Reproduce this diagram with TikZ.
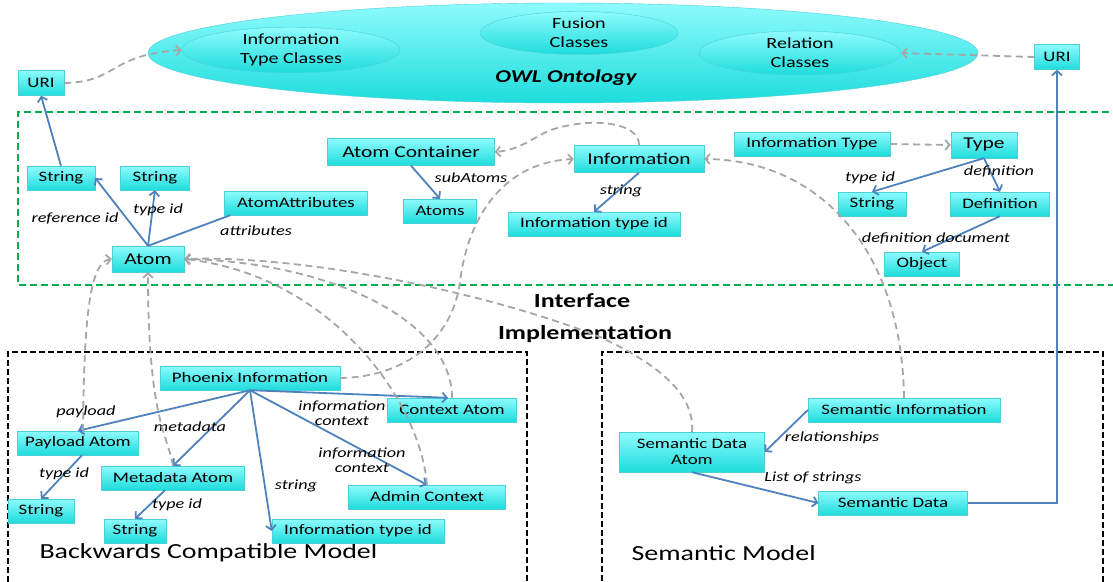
\documentclass[tikz,border=0pt]{standalone}
\usepackage{fontspec}
\setmainfont[FakeStretch=1.3]{Carlito}
\usetikzlibrary{shapes.geometric,arrows.meta}

\definecolor{boxtop}{HTML}{8EFBFD}
\definecolor{boxbot}{HTML}{1EDCDC}
\definecolor{boxedge}{HTML}{4BD0D8}
\definecolor{relblue}{HTML}{4F81BD}
\definecolor{refgray}{HTML}{A6A6A6}
\definecolor{ifgreen}{HTML}{00B050}

\tikzset{
    box/.style={draw=boxedge, thin, top color=boxtop, bottom color=boxbot, minimum height=24pt, inner sep=1pt, font=\fontsize{14.5}{16}\selectfont},
    bigbox/.style={box, font=\fontsize{16.5}{18}\selectfont},
    cls/.style={ellipse, draw=boxedge, thin, top color=boxtop, bottom color=boxbot, align=center, inner sep=0pt, font=\fontsize{15.5}{19}\selectfont},
    rel/.style={relblue, line width=1.8pt, -{Straight Barb[length=4.5pt,width=10pt]}},
    link/.style={relblue, line width=1.8pt},
    ref/.style={refgray, line width=1.8pt, dash pattern=on 7pt off 4.5pt, -{Straight Barb[length=4.5pt,width=10pt]}},
    lbl/.style={font=\itshape\fontsize{14}{15}\selectfont, inner sep=0pt, align=center},
    ttl/.style={font=\bfseries\fontsize{20}{22}\selectfont}
}

\begin{document}
\begin{tikzpicture}[x=1pt,y=-1pt]
    \useasboundingbox (0,0) rectangle (1113,581);

    % OWL ontology
    \draw[boxedge, thin, top color=boxtop, bottom color=boxbot] (563,53) ellipse [x radius=415pt, y radius=50pt];
    \node[cls, minimum width=218pt, minimum height=45pt] (itc) at (291,50) {Information\\Type Classes};
    \node[cls, minimum width=198pt, minimum height=43pt] (fc) at (579,33) {Fusion\\Classes};
    \node[cls, minimum width=202pt, minimum height=44pt] (rc) at (800,53) {Relation\\Classes};
    \node[font=\bfseries\itshape\fontsize{18}{20}\selectfont] (owl) at (566,78) {OWL Ontology};

    \node[box, minimum width=46pt, minimum height=25pt] (uriL) at (41,83) {URI};
    \node[box, minimum width=45pt, minimum height=25pt] (uriR) at (1057,57) {URI};

    % Interface / implementation frames
    \draw[ifgreen, line width=1.8pt, dash pattern=on 7pt off 4pt] (1120,112) -- (18,112) -- (18,285) -- (1120,285);
    \draw[black, line width=2.2pt, dash pattern=on 6pt off 3pt] (527,590) -- (527,352) -- (8,352) -- (8,590);
    \draw[black, line width=2.2pt, dash pattern=on 6pt off 3pt] (602,590) -- (602,352) -- (1103,352) -- (1103,590);
    \node[ttl] (ifc) at (582,301) {Interface};
    \node[ttl] (impl) at (585,334) {Implementation};
    \node[anchor=west, font=\fontsize{21.5}{24}\selectfont] (bcm) at (36,553) {Backwards Compatible Model};
    \node[anchor=west, font=\fontsize{21.5}{24}\selectfont] (sm) at (628,553) {Semantic Model};

    % Interface nodes
    \node[box, minimum width=68pt] (strRef) at (61,178) {String};
    \node[box, minimum width=69pt] (strType) at (155,178) {String};
    \node[box, minimum width=143pt] (attr) at (296,203) {AtomAttributes};
    \node[bigbox, minimum width=72pt, minimum height=26pt] (atom) at (148,259) {Atom};
    \node[bigbox, minimum width=167pt, minimum height=27pt] (cont) at (411,152) {Atom Container};
    \node[box, minimum width=73pt] (atoms) at (440,211) {Atoms};
    \node[bigbox, minimum width=130pt, minimum height=27pt] (info) at (639,159) {Information};
    \node[box, minimum width=172pt] (infoId) at (594,224) {Information type id};
    \node[box, minimum width=156pt] (infoType) at (812,144) {Information Type};
    \node[bigbox, minimum width=66pt, minimum height=26pt] (type) at (984,145) {Type};
    \node[box, minimum width=68pt] (strT) at (872,204) {String};
    \node[box, minimum width=99pt] (defn) at (1000,204) {Definition};
    \node[box, minimum width=75pt] (obj) at (922,264) {Object};

    % Backwards compatible model
    \node[box, minimum width=180pt] (phx) at (250,378) {Phoenix Information};
    \node[box, minimum width=129pt] (ctx) at (452,410) {Context Atom};
    \node[box, minimum width=121pt] (pay) at (78,443) {Payload Atom};
    \node[box, minimum width=143pt] (meta) at (173,478) {Metadata Atom};
    \node[box, minimum width=66pt] (strP) at (41,511) {String};
    \node[box, minimum width=62pt] (strM) at (135,531) {String};
    \node[box, minimum width=157pt] (admin) at (427,497) {Admin Context};
    \node[box, minimum width=172pt] (phxId) at (358,531) {Information type id};

    % Semantic model
    \node[box, minimum width=192pt] (semInfo) at (904,410) {Semantic Information};
    \node[box, minimum width=145pt, minimum height=40pt, align=center] (semAtom) at (692,452) {Semantic Data\\Atom};
    \node[box, minimum width=149pt] (semData) at (893,503) {Semantic Data};

    % Relations
    \draw[rel] (strRef.north) -- (uriL.south);
    \draw[rel] (atom.north) -- (strRef.east);
    \draw[rel] (atom.north) -- (strType.south);
    \draw[link] (atom.north) -- ([xshift=6pt]attr.south west);
    \draw[rel] (cont.south) -- (atoms.north);
    \draw[rel] (info.south) -- (infoId.north);
    \draw[rel] (type.south) -- (strT.north);
    \draw[rel] (type.south) -- (defn.north);
    \draw[rel] (defn.south) -- (obj.north);

    \draw[rel] (phx.south) -- (pay.north);
    \draw[rel] (phx.south) -- (meta.north);
    \draw[rel] (phx.south) -- (phxId.west);
    \draw[rel] (phx.south) -- ([xshift=-4pt]ctx.north);
    \draw[rel] (phx.south) -- (admin.north);
    \draw[rel] ([xshift=4pt]pay.south) -- (strP.north);
    \draw[rel] ([xshift=-8pt]meta.south) -- (strM.north);

    \draw[rel] (semInfo.west) -- (semAtom.east);
    \draw[rel] (semAtom.south) -- (semData.west);
    \draw[rel] (semData.east) -| (uriR.south);

    % Labels
    \node[lbl] (lRef) at (75,218) {reference id};
    \node[lbl] (lType) at (158,210) {type id};
    \node[lbl] (lAttr) at (256,231) {attributes};
    \node[lbl] (lSub) at (471,178) {subAtoms};
    \node[lbl] (lStr) at (621,191) {string};
    \node[lbl] (lTypeT) at (870,178) {type id};
    \node[lbl] (lDef) at (999,171) {definition};
    \node[lbl] (lDoc) at (936,238) {definition document};
    \node[lbl] (lPay) at (86,412) {payload};
    \node[lbl] (lMeta) at (190,427) {metadata};
    \node[lbl] (lTypeP) at (64,474) {type id};
    \node[lbl] (lTypeM) at (177,505) {type id};
    \node[lbl] (lStrP) at (296,486) {string};
    \node[lbl] (lCtx) at (342,413) {information\\context};
    \node[lbl] (lAdm) at (362,460) {information\\context};
    \node[lbl] (lRelS) at (832,438) {relationships};
    \node[lbl] (lList) at (813,478) {List of strings};

    % References
    \draw[ref] (uriL.east) .. controls (118,82) and (108,55) .. (itc.west);
    \draw[ref] (uriR.west) -- (rc.east);
    \draw[ref] (infoType.east) -- (type.west);
    \draw[ref] (info.north) .. controls (640,122) and (590,116) .. (548,131) .. controls (530,140) and (518,150) .. (cont.east);
    \draw[ref] (phx.east) .. controls (405,377) and (452,340) .. (460,282) .. controls (468,215) and (505,162) .. (info.west);
    \draw[ref] (semInfo.north) .. controls (902,250) and (820,160) .. (info.east);
    \draw[ref] (ctx.north) .. controls (452,320) and (330,262) .. (atom.east);
    \draw[ref] (admin.north) .. controls (420,400) and (330,275) .. (atom.east);
    \draw[ref] (semAtom.north) .. controls (695,395) and (660,365) .. (600,337) .. controls (480,290) and (300,255) .. (atom.east);
    \draw[ref] ([xshift=5pt]pay.north) .. controls (84,330) and (88,262) .. (atom.west);
    \draw[ref] (meta.north) .. controls (168,435) and (148,420) .. (atom.south);

\end{tikzpicture}
\end{document}
